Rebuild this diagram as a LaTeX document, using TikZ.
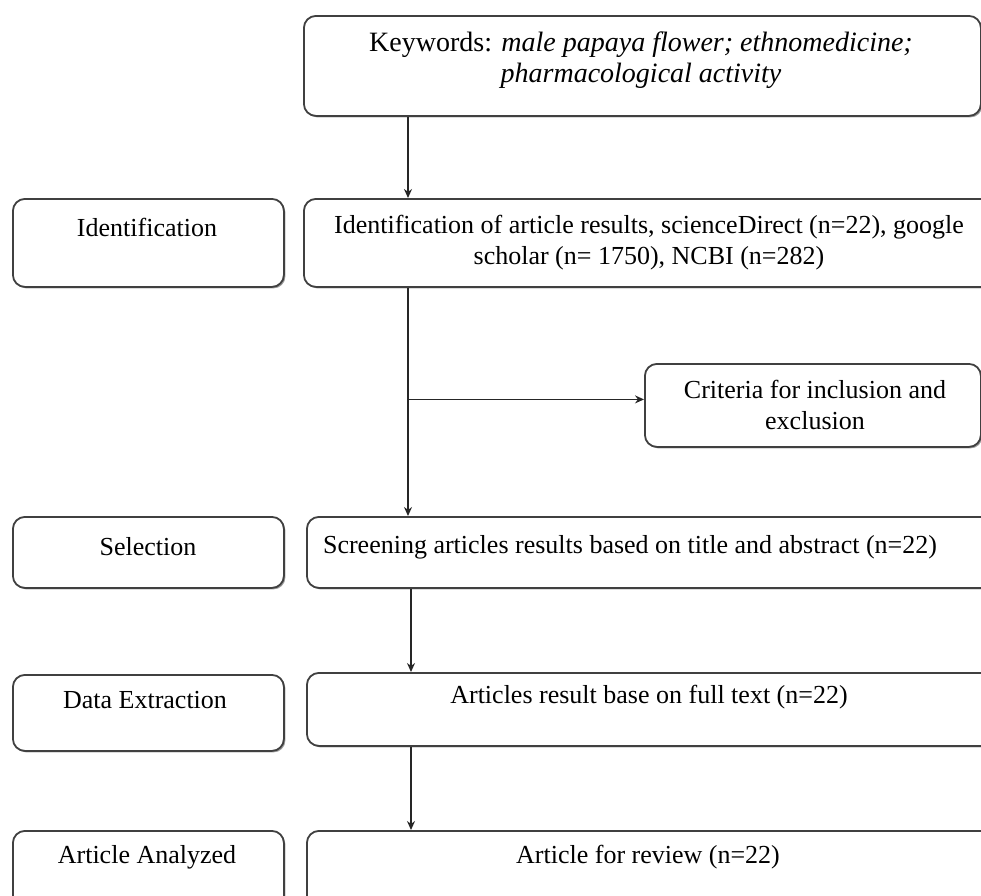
\documentclass[tikz,border=0pt]{standalone}
\usepackage{fontspec}
\setmainfont{Liberation Serif}
\usetikzlibrary{positioning,shadows,arrows.meta}

\tikzset{
  stagebox/.style={draw=black!75, line width=1.8pt, fill=white, rounded corners=12pt,
    drop shadow={shadow xshift=1.5pt, shadow yshift=-1.5pt, fill=black!40, opacity=1},
    inner sep=0pt, anchor=north west},
  boxtext/.style={inner sep=0pt, align=center, font=\fontsize{26}{31}\selectfont},
  flow/.style={draw=black!85, line width=1.8pt, -{Stealth[length=9pt,width=8pt]}}
}

\begin{document}
\begin{tikzpicture}[x=1pt,y=1pt,yscale=-1,xscale=1]
        \useasboundingbox (0,0) rectangle (981,895);
        \clip (0,0) rectangle (981,895);

        %Shape: Rounded Rect [id:keywords]
        \node[stagebox, minimum width=677pt, minimum height=100pt] (kw) at (303,15) {};
        %Shape: Rounded Rect [id:identification]
        \node[stagebox, minimum width=271pt, minimum height=88pt] (idL) at (12,198) {};
        \node[stagebox, minimum width=700pt, minimum height=88pt] (idR) at (303,198) {};
        %Shape: Rounded Rect [id:criteria]
        \node[stagebox, minimum width=336pt, minimum height=83pt] (crit) at (644,363) {};
        %Shape: Rounded Rect [id:selection]
        \node[stagebox, minimum width=271pt, minimum height=71pt] (selL) at (12,516) {};
        \node[stagebox, minimum width=700pt, minimum height=71pt] (selR) at (306,516) {};
        %Shape: Rounded Rect [id:extraction]
        \node[stagebox, minimum width=271pt, minimum height=76pt] (dataL) at (12,674) {};
        \node[stagebox, minimum width=700pt, minimum height=73pt] (dataR) at (306,672) {};
        %Shape: Rounded Rect [id:analyzed]
        \node[stagebox, minimum width=271pt, minimum height=90pt] (anL) at (12,830) {};
        \node[stagebox, minimum width=700pt, minimum height=90pt] (anR) at (306,830) {};

        \coordinate (spine) at (408,0);
        \coordinate (spinelow) at (411,0);

        %Straight Lines [id:kw-id]
        \draw[flow] (kw.south -| spine) -- (idR.north -| spine);
        %Straight Lines [id:id-sel]
        \draw[flow] (idR.south -| spine) -- (selR.north -| spine);
        %Straight Lines [id:branch]
        \draw[flow] ([yshift=-6pt]crit.west -| spine) -- ([yshift=-6pt]crit.west);
        %Straight Lines [id:sel-data]
        \draw[flow] (selR.south -| spinelow) -- (dataR.north -| spinelow);
        %Straight Lines [id:data-an]
        \draw[flow] (dataR.south -| spinelow) -- (anR.north -| spinelow);

        % Text Node
        \node[boxtext, font=\fontsize{28}{31}\selectfont] (kwtext) at (641,60) {Keywords: \textit{male papaya flower; ethnomedicine;}\\\textit{pharmacological activity}};
        % Text Node
        \node[boxtext] (idLtext) at (147,227) {Identification};
        % Text Node
        \node[boxtext] (idRtext) at (649,243) {Identification of article results, scienceDirect (n=22), google\\scholar (n= 1750), NCBI (n=282)};
        % Text Node
        \node[boxtext] (crittext) at (815,405) {Criteria for inclusion and\\exclusion};
        % Text Node
        \node[boxtext] (selLtext) at (148,547) {Selection};
        % Text Node
        \node[boxtext] (selRtext) at (630,547) {Screening articles results based on title and abstract (n=22)};
        % Text Node
        \node[boxtext] (dataLtext) at (145,700) {Data Extraction};
        % Text Node
        \node[boxtext] (dataRtext) at (649,697) {Articles result base on full text (n=22)};
        % Text Node
        \node[boxtext] (anLtext) at (147,857) {Article Analyzed};
        % Text Node
        \node[boxtext] (anRtext) at (648,857) {Article for review (n=22)};
\end{tikzpicture}
\end{document}
